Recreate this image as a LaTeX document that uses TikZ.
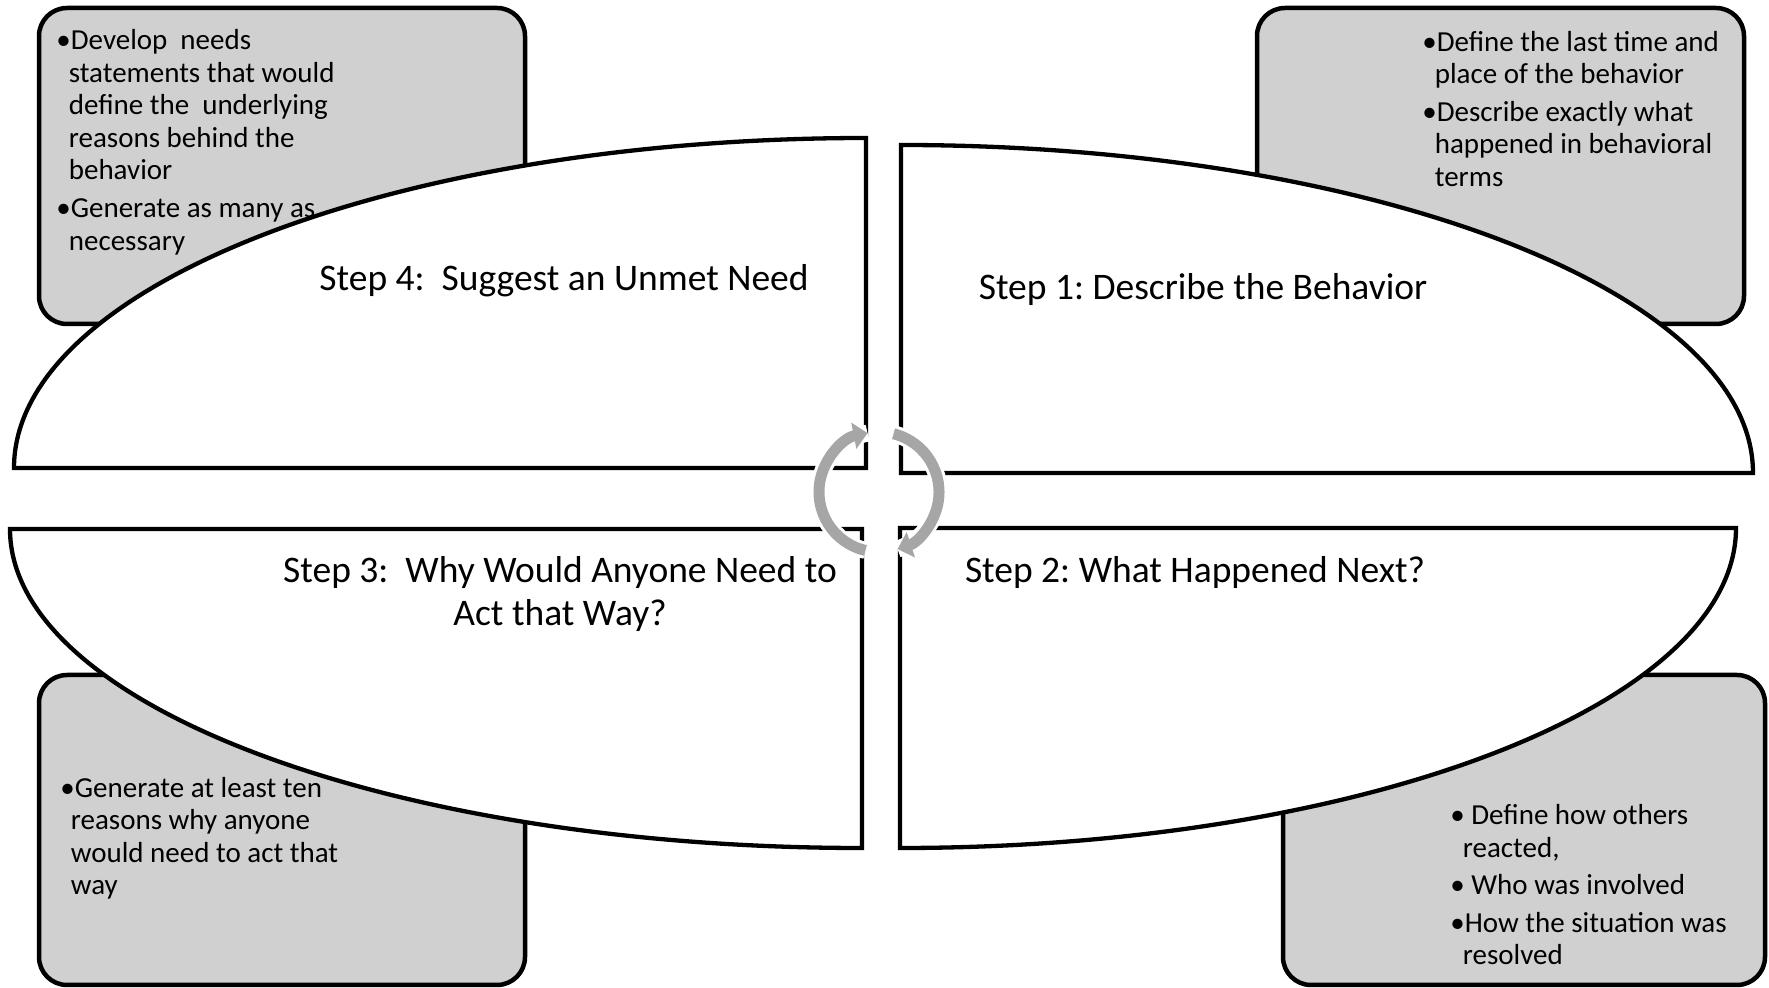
\documentclass[tikz,border=0pt]{standalone}
\usepackage{fontspec}
\setmainfont{Carlito}
\usetikzlibrary{arrows.meta}
\definecolor{boxgray}{RGB}{208,208,208}
\definecolor{arrowgray}{RGB}{166,166,166}
\newcommand\bulind{\hphantom{•}\hspace{-1pt}}
\frenchspacing
\begin{document}
\begin{tikzpicture}[x=0.5pt,y=-0.5pt,
  infobox/.style={draw=black,line width=2.25pt,fill=boxgray,rounded corners=14pt},
  stepshape/.style={draw=black,line width=2.15pt,fill=white},
  steptext/.style={font=\fontsize{18.75pt}{21.5pt}\selectfont,inner sep=0pt,anchor=base},
  bultext/.style={font=\fontsize{14.5pt}{16.25pt}\selectfont,inner sep=0pt,anchor=base west},
  cyclearrow/.style={draw=arrowgray,line width=5.5pt,-{Triangle[width=13pt,length=7pt]},
    preaction={draw=white,line width=8.5pt,-}}
]
\fill[white] (0,0) rectangle (1769,988);
\useasboundingbox (0,0) rectangle (1769,988);

% grey boxes
\draw[infobox] (39,8) rectangle (525,324);
\draw[infobox] (1257,8) rectangle (1744,324);
\draw[infobox] (39,675) rectangle (525,985);
\draw[infobox] (1283,675) rectangle (1765,985);

% quarter ellipses
\draw[stepshape] (866,468) -- (866,138) arc[start angle=-90,end angle=-180,x radius=852,y radius=330] -- cycle;
\draw[stepshape] (901,473) -- (1753,473) arc[start angle=0,end angle=-90,x radius=852,y radius=328] -- cycle;
\draw[stepshape] (862,529) -- (10,529) arc[start angle=180,end angle=90,x radius=852,y radius=319] -- cycle;
\draw[stepshape] (900,528) -- (900,848) arc[start angle=90,end angle=0,x radius=836,y radius=320] -- cycle;

% cycle arrows
\coordinate (cc) at (879,492);
\draw[cyclearrow] (cc) ++(103:60) arc[start angle=103,end angle=259,radius=60];
\draw[cyclearrow] (cc) ++(-76:60) arc[start angle=-76,end angle=72,radius=60];

% step titles
\node[steptext] (s4) at (564,291) {Step 4:\ \ Suggest an Unmet Need};
\node[steptext] (s1) at (1203,300) {Step 1: Describe the Behavior};
\node[steptext] (s2) at (1195,583) {Step 2: What Happened Next?};
\node[steptext] (s3) at (560,583) {\begin{tabular}[t]{@{}c@{}}Step 3:\ \ Why Would Anyone Need to\\Act that Way?\end{tabular}};

% bullet texts
\node[bultext] (t4) at (56,50) {\begin{tabular}[t]{@{}l@{}}•Develop\ \ needs\\
\bulind statements that would\\
\bulind define the\ \ underlying\\
\bulind reasons behind the\\
\bulind behavior\\[2.75pt]
•Generate as many as\\
\bulind necessary\end{tabular}};

\node[bultext] (t1) at (1422,51.5) {\begin{tabular}[t]{@{}l@{}}•Define the last time and\\
\bulind place of the behavior\\[2.5pt]
•Describe exactly what\\
\bulind happened in behavioral\\
\bulind terms\end{tabular}};

\node[bultext] (t3) at (60,797.5) {\begin{tabular}[t]{@{}l@{}}•Generate at least ten\\
\hphantom{•}\hspace{-2pt}reasons why anyone\\
\hphantom{•}\hspace{-2pt}would need to act that\\
\hphantom{•}\hspace{-2pt}way\end{tabular}};

\node[bultext] (t2) at (1450,825) {\begin{tabular}[t]{@{}l@{}}• Define how others\\
\bulind reacted,\\[2.5pt]
• Who was involved\\[2.5pt]
•How the situation was\\
\bulind resolved\end{tabular}};
\end{tikzpicture}
\end{document}
